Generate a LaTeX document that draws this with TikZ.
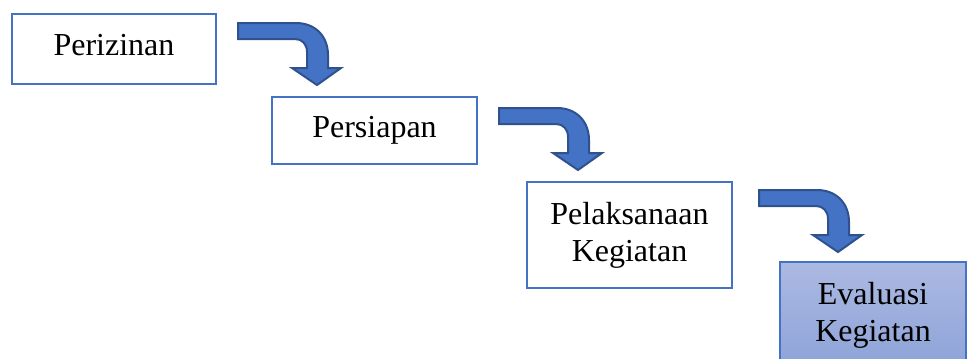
\documentclass[tikz,border=0pt]{standalone}
\usepackage{fontspec}
\setmainfont{Liberation Serif}
\definecolor{boxline}{HTML}{4472C4}
\definecolor{arrowfill}{HTML}{4472C4}
\definecolor{arrowline}{HTML}{2F528F}
\definecolor{evaltop}{RGB}{172,185,226}
\definecolor{evalbot}{RGB}{141,163,216}
\tikzset{
    stagebox/.style={draw=boxline,line width=0.8pt,fill=white,align=center,
        inner sep=0pt,font=\fontsize{24}{27.75}\selectfont},
    bendarrow/.pic={
        \filldraw[fill=arrowfill,draw=arrowline,line width=1.5pt,line join=miter]
            (0,0) -- (58,0) .. controls (77,0) and (90,13) .. (90,32)
            -- (90,45) -- (103,45) -- (79,62) -- (54,45) -- (69,45) -- (69,29)
            .. controls (69,21) and (64,16) .. (57,16) -- (0,16) -- cycle;
    }
}

\begin{document}
\begin{tikzpicture}[x=0.75pt,y=-0.75pt]
        \useasboundingbox (0,0) rectangle (967,358);
        \clip (0,0) rectangle (967,358);

        \node[stagebox,minimum width=153pt,minimum height=52.5pt,text depth=6pt] (izin) at (114,49) {Perizinan};
        \node[stagebox,minimum width=153.75pt,minimum height=50.25pt] (siap) at (374.5,130.5) {Persiapan};
        \node[stagebox,minimum width=153.75pt,minimum height=79.5pt] (laksana) at (629.5,235) {Pelaksanaan\\Kegiatan};
        \node[stagebox,top color=evaltop,bottom color=evalbot,minimum width=139.5pt,minimum height=79.5pt] (evaluasi) at (873,315) {Evaluasi\\Kegiatan};

        % bent arrows between the stages
        \foreach \x/\y in {238/23, 499/108, 759/190}
                \pic at (\x,\y) {bendarrow};
\end{tikzpicture}
\end{document}
